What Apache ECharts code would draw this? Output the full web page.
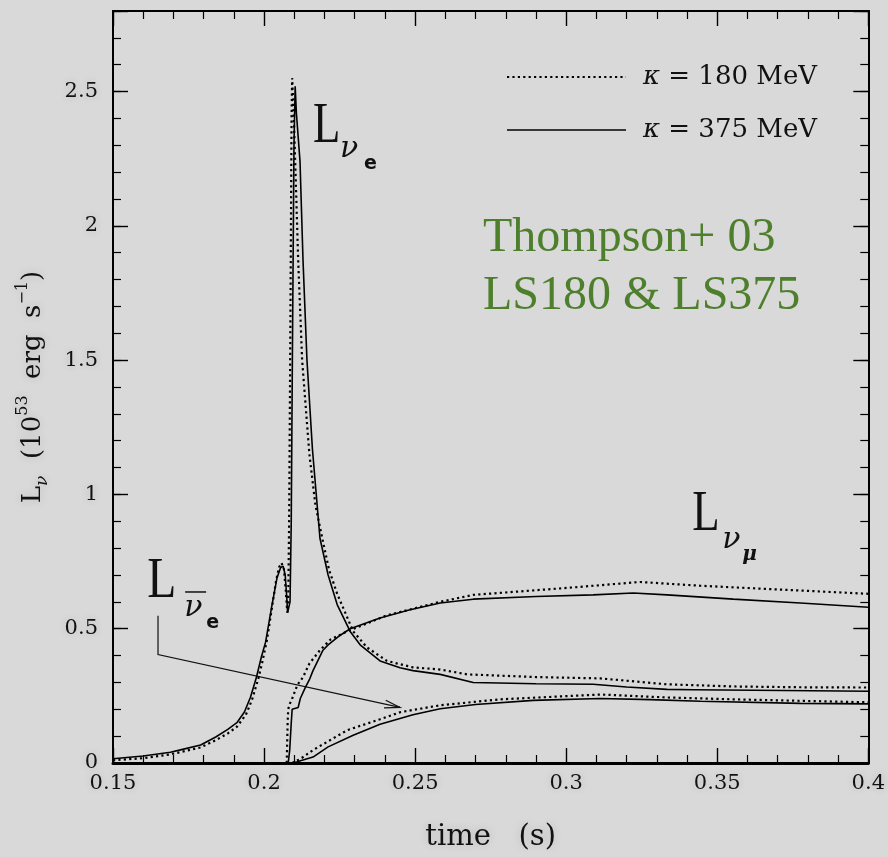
<!DOCTYPE html>
<html>
<head>
<meta charset="utf-8">
<title>Neutrino luminosities</title>
<script src="https://cdn.jsdelivr.net/npm/echarts@6/dist/echarts.min.js"></script>
<style>
  html, body { margin: 0; padding: 0; background: #d9d9d9; }
  #chart { width: 888px; height: 857px; }
</style>
</head>
<body>
<div id="chart"></div>
<script>
// ---- axis ranges ----
const timeRange = [0.15, 0.4];
const timeStep = 0.05;
const lumRange = [0, 2.8];
const lumStep = 0.5;
const lumMinorStep = 0.1;

// ---- luminosity curves, [time (s), L (1e53 erg/s)] ----
// electron neutrinos
const nue375 = [
  [0.150, 0.016], [0.160, 0.026], [0.169, 0.040], [0.172, 0.048], [0.179, 0.067],
  [0.184, 0.097], [0.188, 0.125], [0.191, 0.150], [0.1935, 0.19], [0.1955, 0.245],
  [0.1975, 0.32], [0.199, 0.39], [0.2005, 0.45], [0.2025, 0.58], [0.2043, 0.69],
  [0.2055, 0.728], [0.2063, 0.733], [0.2070, 0.70], [0.2075, 0.62], [0.2078, 0.56],
  [0.2086, 0.60], [0.2090, 0.90], [0.2094, 1.55], [0.2099, 2.30], [0.2103, 2.52],
  [0.2107, 2.42], [0.2119, 2.24], [0.2129, 1.87], [0.2142, 1.50], [0.2160, 1.17],
  [0.2175, 0.97], [0.2185, 0.837], [0.2212, 0.70], [0.2242, 0.59], [0.2285, 0.49],
  [0.2318, 0.44], [0.2384, 0.38], [0.2450, 0.355], [0.2493, 0.344], [0.2583, 0.33],
  [0.2692, 0.30], [0.2900, 0.295], [0.3089, 0.293], [0.3200, 0.283], [0.3334, 0.274],
  [0.3420, 0.273], [0.3719, 0.270], [0.4000, 0.267]
];
const nue180 = [
  [0.150, 0.010], [0.160, 0.018], [0.169, 0.032], [0.179, 0.058], [0.184, 0.085],
  [0.188, 0.110], [0.191, 0.135], [0.194, 0.180], [0.196, 0.235], [0.198, 0.31],
  [0.1995, 0.38], [0.201, 0.46], [0.2025, 0.57], [0.204, 0.68], [0.205, 0.73],
  [0.2058, 0.745], [0.2066, 0.72], [0.2072, 0.64], [0.2077, 0.56], [0.2080, 0.60],
  [0.2083, 0.90], [0.2087, 1.60], [0.2091, 2.40], [0.2093, 2.55], [0.2098, 2.42],
  [0.2103, 2.24], [0.2113, 1.87], [0.2126, 1.50], [0.2150, 1.15], [0.2170, 0.96],
  [0.2192, 0.84], [0.2215, 0.72], [0.2242, 0.63], [0.2295, 0.49], [0.2341, 0.43],
  [0.2407, 0.38], [0.2493, 0.356], [0.2583, 0.348], [0.2672, 0.33], [0.2900, 0.32],
  [0.3113, 0.315], [0.3334, 0.293], [0.3553, 0.285], [0.3775, 0.282], [0.4000, 0.281]
];
// mu/tau neutrinos
const numu375 = [
  [0.2080, 0.0], [0.2085, 0.05], [0.2090, 0.15], [0.2093, 0.20], [0.2096, 0.207],
  [0.2113, 0.207], [0.2120, 0.24], [0.2136, 0.28], [0.2150, 0.31], [0.2162, 0.344],
  [0.2195, 0.42], [0.2212, 0.44], [0.2245, 0.47], [0.2285, 0.50], [0.2384, 0.54],
  [0.2480, 0.57], [0.2583, 0.596], [0.2692, 0.61], [0.2900, 0.62], [0.3089, 0.626],
  [0.3222, 0.633], [0.3334, 0.626], [0.3553, 0.61], [0.3775, 0.596], [0.4000, 0.58]
];
const numu180 = [
  [0.2075, 0.0], [0.2078, 0.15], [0.2080, 0.20], [0.2085, 0.22], [0.2093, 0.24],
  [0.2110, 0.29], [0.2129, 0.32], [0.2150, 0.37], [0.2185, 0.42], [0.2220, 0.46],
  [0.2275, 0.49], [0.2407, 0.55], [0.2583, 0.60], [0.2692, 0.626], [0.3003, 0.652],
  [0.3245, 0.674], [0.3444, 0.66], [0.3666, 0.648], [0.4000, 0.63]
];
// electron antineutrinos
const nuebar375 = [
  [0.2093, 0.0], [0.2110, 0.005], [0.2162, 0.022], [0.2212, 0.06], [0.2295, 0.103],
  [0.2384, 0.144], [0.2493, 0.18], [0.2583, 0.202], [0.2700, 0.218], [0.2891, 0.233],
  [0.3113, 0.24], [0.3278, 0.236], [0.3444, 0.23], [0.3775, 0.222], [0.4000, 0.22]
];
const nuebar180 = [
  [0.2093, 0.0], [0.2120, 0.015], [0.2162, 0.048], [0.2275, 0.122], [0.2384, 0.163],
  [0.2450, 0.189], [0.2583, 0.215], [0.2781, 0.237], [0.3113, 0.255], [0.3334, 0.244],
  [0.3553, 0.237], [0.4000, 0.226]
];

// ---- annotation anchors in data coordinates ----
const nueLabelAt = [0.2162, 2.367];
const numuLabelAt = [0.3417, 0.922];
const nuebarLabelAt = [0.1613, 0.674];
const nuebarArrow = [[0.1649, 0.548], [0.1649, 0.404], [0.2450, 0.207]];

const legendNames = ['κ = 180 MeV', 'κ = 375 MeV'];

const INK = '#111';
const HALO = 'rgba(0,0,0,0.16)';
const SERIF = '"DejaVu Serif", serif';
const dotted = { color: '#000', width: 2.2, type: [2.2, 3.2], cap: 'butt' };
const solid = { color: '#000', width: 1.6, type: 'solid' };

const chart = echarts.init(document.getElementById('chart'), null, { renderer: 'canvas' });

const fmtTime = v => String(parseFloat(v.toFixed(2)));
const fmtLum = v => (v > 2.6 ? '' : String(parseFloat(v.toFixed(1))));

const tickLabelStyle = {
  fontFamily: SERIF, fontSize: 21, color: INK,
  textShadowColor: HALO, textShadowBlur: 8
};

function xAxisDef(pos, withLabels) {
  return {
    type: 'value', position: pos,
    min: timeRange[0], max: timeRange[1], interval: timeStep,
    axisLine: { show: true, onZero: false, lineStyle: { color: '#000', width: pos === 'bottom' ? 3 : 2 } },
    axisTick: { show: true, inside: true, length: 15, lineStyle: { color: '#000', width: 1.4 } },
    minorTick: { show: true, splitNumber: 5, length: 8, lineStyle: { color: '#000', width: 1.2 } },
    splitLine: { show: false },
    minorSplitLine: { show: false },
    axisLabel: withLabels
      ? Object.assign({ show: true, margin: 10, formatter: fmtTime }, tickLabelStyle)
      : { show: false }
  };
}

function yAxisDef(pos, step, tickLen, withLabels) {
  return {
    type: 'value', position: pos,
    min: lumRange[0], max: lumRange[1], interval: step,
    axisLine: { show: true, onZero: false, lineStyle: { color: '#000', width: 2 } },
    axisTick: { show: true, inside: true, length: tickLen, lineStyle: { color: '#000', width: tickLen > 10 ? 1.4 : 1.2 } },
    splitLine: { show: false },
    axisLabel: withLabels
      ? Object.assign({ show: true, margin: 15, formatter: fmtLum }, tickLabelStyle)
      : { show: false }
  };
}

const xBottom = xAxisDef('bottom', true);
xBottom.name = 'time   (s)';
xBottom.nameLocation = 'middle';
xBottom.nameGap = 60;
xBottom.nameTextStyle = {
  fontFamily: SERIF, fontSize: 29, color: INK,
  textShadowColor: HALO, textShadowBlur: 10
};

const yLeft = yAxisDef('left', lumStep, 15, true);
yLeft.name = 'L{nu|ν}  (10{sup|53}  erg  s{sup|−1})';
yLeft.nameLocation = 'middle';
yLeft.nameGap = 62;
yLeft.nameRotate = 90;
yLeft.nameTextStyle = {
  fontFamily: SERIF, fontSize: 26, color: INK, lineHeight: 36,
  textShadowColor: HALO, textShadowBlur: 10,
  rich: {
    nu: { fontFamily: SERIF, fontStyle: 'italic', fontSize: 17, color: INK, verticalAlign: 'bottom', lineHeight: 19 },
    sup: { fontFamily: SERIF, fontSize: 16, color: INK, verticalAlign: 'top', lineHeight: 17 }
  }
};

function lineSeries(name, data, style) {
  return {
    type: 'line', name, data,
    xAxisIndex: 0, yAxisIndex: 0,
    symbol: 'none', showSymbol: false, smooth: false,
    lineStyle: style, silent: true, clip: true, z: 3
  };
}

chart.setOption({
  backgroundColor: '#d9d9d9',
  animation: false,
  grid: { left: 113, right: 19, top: 11, bottom: 91, containLabel: false },
  xAxis: [xBottom, xAxisDef('top', false)],
  yAxis: [
    yLeft,
    yAxisDef('left', lumMinorStep, 8, false),
    yAxisDef('right', lumStep, 15, false),
    yAxisDef('right', lumMinorStep, 8, false)
  ],
  series: [
    lineSeries(legendNames[0], nue180, dotted),
    lineSeries(legendNames[1], nue375, solid),
    lineSeries(legendNames[0], numu180, dotted),
    lineSeries(legendNames[1], numu375, solid),
    lineSeries(legendNames[0], nuebar180, dotted),
    lineSeries(legendNames[1], nuebar375, solid)
  ]
});

// ---- annotations: legend key, curve labels, arrow, model tag ----
const toPx = p => chart.convertToPixel({ xAxisIndex: 0, yAxisIndex: 0 }, p);

function txt(x, y, text, font, extra) {
  return Object.assign({
    type: 'text', x, y,
    style: {
      text, font, fill: INK, align: 'left', verticalAlign: 'middle',
      shadowColor: HALO, shadowBlur: 12
    }
  }, extra || {});
}

function labelGroup(anchor, parts) {
  const p = toPx(anchor);
  return { type: 'group', x: p[0], y: p[1], children: parts };
}

const bigL = '56px "Liberation Serif", serif';
const nuFont = 'italic 30px "DejaVu Serif", serif';
const subFont = 'bold 19px "DejaVu Sans", sans-serif';
const muFont = 'italic bold 20px "DejaVu Serif", serif';

const nueLabel = labelGroup(nueLabelAt, [
  txt(0, 0, 'L', bigL, { scaleX: 0.8 }),
  txt(27, 22, 'ν', nuFont),
  txt(51, 37, 'e', subFont)
]);
const numuLabel = labelGroup(numuLabelAt, [
  txt(0, 0, 'L', bigL, { scaleX: 0.8 }),
  txt(30, 25, 'ν', nuFont),
  txt(50, 39, 'μ', muFont)
]);
const nuebarLabel = labelGroup(nuebarLabelAt, [
  txt(0, 0, 'L', bigL, { scaleX: 0.85 }),
  { type: 'line', shape: { x1: 38, y1: 10, x2: 59, y2: 10 }, style: { stroke: INK, lineWidth: 1.5 } },
  txt(37, 26, 'ν', nuFont),
  txt(59, 41, 'e', subFont)
]);

// arrow from the antineutrino label to its curve
const arrowPts = nuebarArrow.map(toPx);
const tip = arrowPts[arrowPts.length - 1];
const prev = arrowPts[arrowPts.length - 2];
const ang = Math.atan2(tip[1] - prev[1], tip[0] - prev[0]);
const barb = (da) => [tip[0] - 16 * Math.cos(ang + da), tip[1] - 16 * Math.sin(ang + da)];
const arrow = [
  { type: 'polyline', shape: { points: arrowPts }, style: { stroke: INK, lineWidth: 1.2, fill: null } },
  { type: 'polyline', shape: { points: [barb(0.25), tip, barb(-0.25)] }, style: { stroke: INK, lineWidth: 1.2, fill: null } }
];

// line-style key
const legendFont = '26px "DejaVu Serif", serif';
const keyRows = [
  { y: 77, style: { stroke: '#000', lineWidth: 2.2, lineDash: [2.2, 3.2] }, label: legendNames[0] },
  { y: 130, style: { stroke: '#000', lineWidth: 1.6 }, label: legendNames[1] }
];
const keyGroup = {
  type: 'group', x: 507, y: 0,
  children: keyRows.flatMap(r => [
    { type: 'line', shape: { x1: 0, y1: r.y, x2: 119, y2: r.y }, style: r.style },
    {
      type: 'text', x: 136, y: r.y,
      style: {
        text: '{k|κ}' + r.label.slice(1),
        font: legendFont, fill: INK, verticalAlign: 'middle',
        shadowColor: HALO, shadowBlur: 10,
        rich: { k: { font: 'italic 26px "DejaVu Serif", serif', fill: INK } }
      }
    }
  ])
};

// simulation tag
const tagFont = '48px "Liberation Serif", serif';
const tagGroup = {
  type: 'group', x: 483, y: 0,
  children: [
    { type: 'text', x: 0, y: 238, style: { text: 'Thompson+ 03', font: tagFont, fill: '#4e7f2c', verticalAlign: 'middle' } },
    { type: 'text', x: 0, y: 296, style: { text: 'LS180 & LS375', font: tagFont, fill: '#4e7f2c', verticalAlign: 'middle' } }
  ]
};

chart.setOption({
  graphic: [keyGroup, tagGroup, nueLabel, numuLabel, nuebarLabel].concat(arrow)
});
</script>
</body>
</html>
